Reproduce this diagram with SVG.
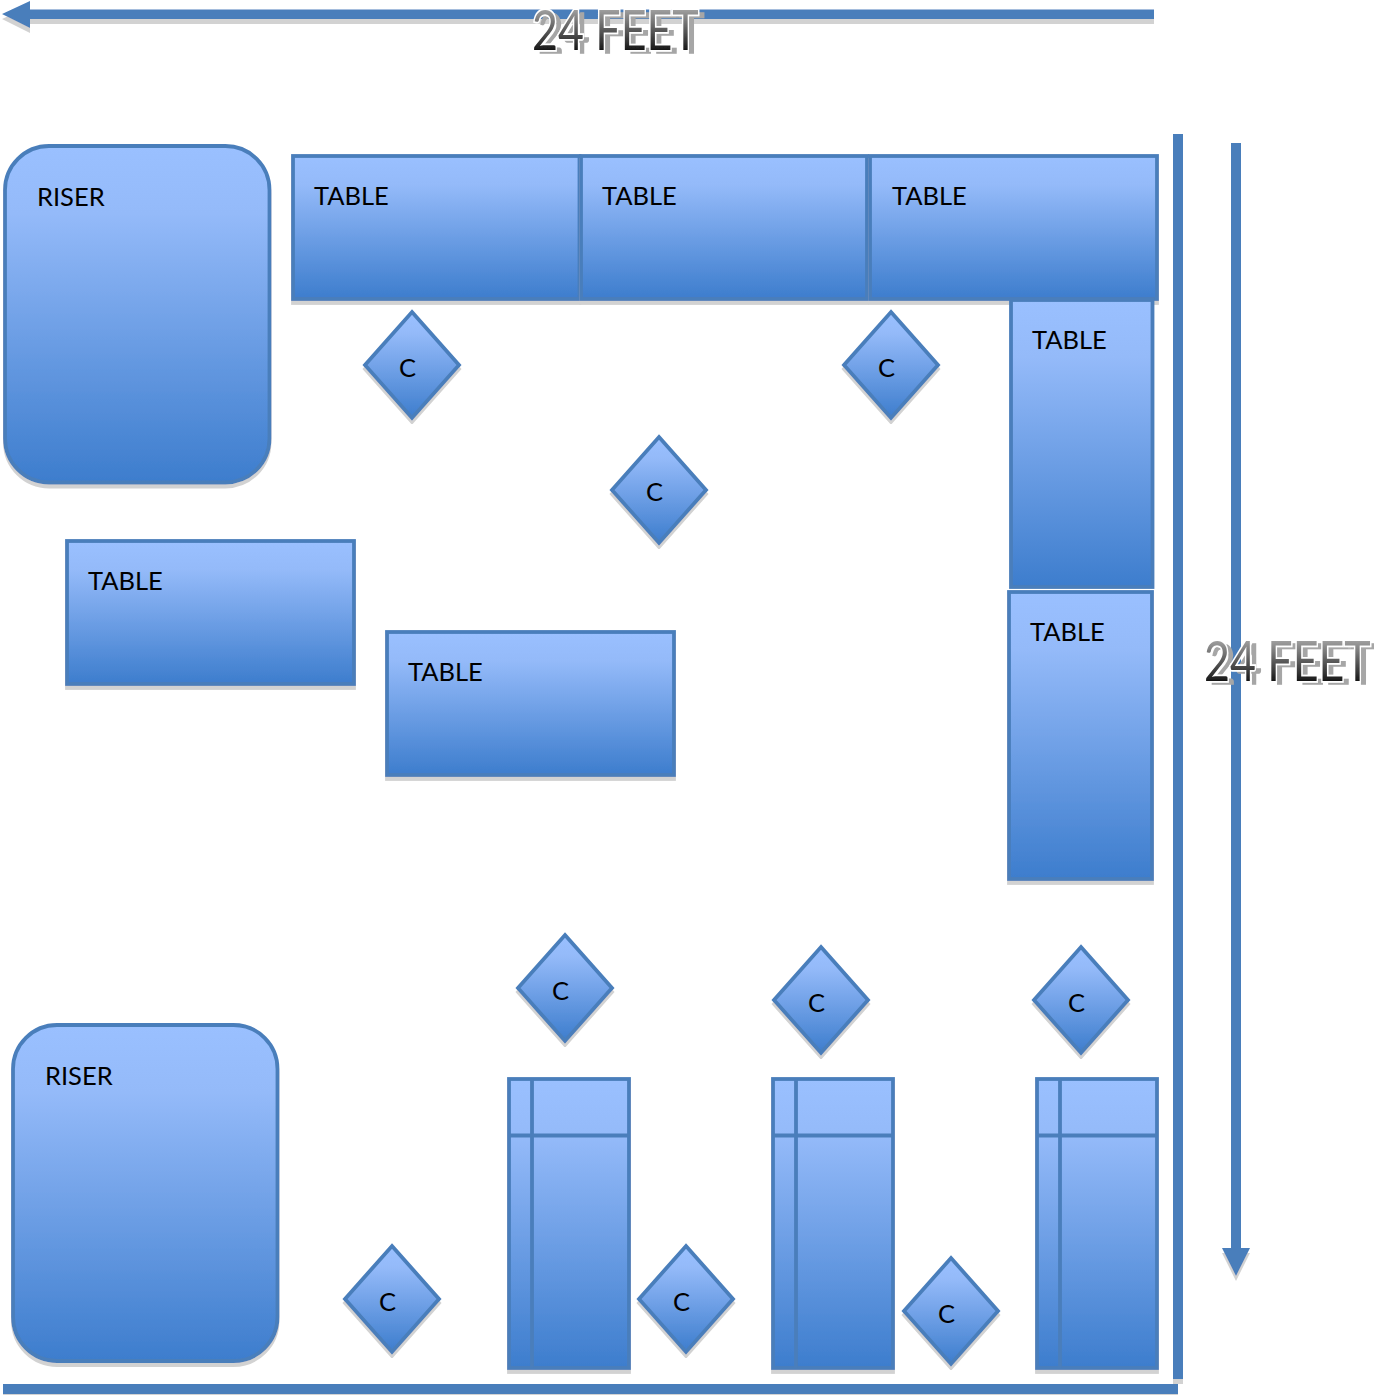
<svg xmlns="http://www.w3.org/2000/svg" width="1374" height="1395" viewBox="0 0 1374 1395">
<defs>
<linearGradient id="g" x1="0" y1="0" x2="0" y2="1"><stop offset="0" stop-color="#9ac0ff"/><stop offset="0.2" stop-color="#94baf9"/><stop offset="1" stop-color="#3d7dcd"/></linearGradient>
<linearGradient id="tg" x1="0" y1="0" x2="0" y2="1"><stop offset="0.15" stop-color="#b4b4b4"/><stop offset="0.85" stop-color="#111111"/></linearGradient>
<filter id="sh" x="-5%" y="-5%" width="110%" height="110%"><feOffset in="SourceAlpha" dx="0" dy="4" result="o"/><feFlood flood-color="#d2d2d2"/><feComposite in2="o" operator="in"/><feMerge><feMergeNode/><feMergeNode in="SourceGraphic"/></feMerge></filter>
<filter id="bsh" filterUnits="userSpaceOnUse" x="0" y="0" width="1374" height="1395"><feOffset in="SourceAlpha" dx="0" dy="5" result="o"/><feFlood flood-color="#d2d2d2"/><feComposite in2="o" operator="in"/><feMerge><feMergeNode/><feMergeNode in="SourceGraphic"/></feMerge></filter>
<filter id="ts" x="-10%" y="-20%" width="120%" height="140%"><feMorphology in="SourceAlpha" operator="erode" radius="1"/><feOffset dx="8" dy="3" result="o"/><feFlood flood-color="#a6a6a6"/><feComposite in2="o" operator="in"/><feMerge><feMergeNode/><feMergeNode in="SourceGraphic"/></feMerge></filter>
</defs>
<style>
.s{fill:url(#g);stroke:#4a7ebb;stroke-width:3.8}
.l{fill:none;stroke:#4a7ebb;stroke-width:3.8}
.b{fill:#4a7ebb}
.t{font-family:Lato,"Open Sans",sans-serif;font-size:25.5px;fill:#000}
.big{font-family:Lato,"Liberation Sans",sans-serif;font-size:57px;fill:url(#tg);stroke:#fff;stroke-width:3.5;paint-order:stroke;filter:url(#ts)}
</style>
<g id="connectors">
<path class="b" filter="url(#bsh)" d="M1154 9.500H30V1L2 14L30 28V19H1154Z"/>
<rect class="b" x="1173" y="134" width="10" height="1245" filter="url(#bsh)"/>
<path class="b" filter="url(#bsh)" d="M1231 143H1241V1248H1250L1236 1276L1222 1248H1231Z"/>
<rect class="b" x="3" y="1384" width="1175" height="10" filter="url(#bsh)"/>
</g>
<g id="riser-1"><rect class="s" filter="url(#sh)" x="5" y="146" width="264.500" height="336.500" rx="44"/><text class="t" x="37" y="206">RISER</text></g>
<g id="riser-2"><rect class="s" filter="url(#sh)" x="13" y="1025" width="264.500" height="336" rx="44"/><text class="t" x="45" y="1085">RISER</text></g>
<g id="table-1"><rect class="s" filter="url(#sh)" x="293" y="156" width="286.500" height="143"/><text class="t" x="314" y="205">TABLE</text></g>
<g id="table-2"><rect class="s" filter="url(#sh)" x="581" y="156" width="286" height="143"/><text class="t" x="602" y="205">TABLE</text></g>
<g id="table-3"><rect class="s" filter="url(#sh)" x="870" y="156" width="287" height="143"/><text class="t" x="892" y="205">TABLE</text></g>
<g id="table-4"><rect class="s" x="1011" y="300" width="141.500" height="287"/><text class="t" x="1032" y="349">TABLE</text></g>
<g id="table-5"><rect class="s" filter="url(#sh)" x="1009" y="592" width="143" height="287"/><text class="t" x="1030" y="641">TABLE</text></g>
<g id="table-6"><rect class="s" filter="url(#sh)" x="67" y="541" width="287" height="143"/><text class="t" x="88" y="590">TABLE</text></g>
<g id="table-7"><rect class="s" filter="url(#sh)" x="387" y="632" width="287" height="143"/><text class="t" x="408" y="681">TABLE</text></g>
<g id="tall-1"><rect class="s" filter="url(#sh)" x="509" y="1079" width="120" height="289"/><path class="l" d="M532 1079V1368M509 1135.500H629"/></g>
<g id="tall-2"><rect class="s" filter="url(#sh)" x="773" y="1079" width="120" height="289"/><path class="l" d="M796 1079V1368M773 1135.500H893"/></g>
<g id="tall-3"><rect class="s" filter="url(#sh)" x="1037" y="1079" width="120" height="289"/><path class="l" d="M1060 1079V1368M1037 1135.500H1157"/></g>
<g id="c-1"><path class="s" filter="url(#sh)" d="M412 312L459 365L412 418L365 365Z"/><text class="t" x="399" y="377">C</text></g>
<g id="c-2"><path class="s" filter="url(#sh)" d="M891 312L938 365L891 418L844 365Z"/><text class="t" x="878" y="377">C</text></g>
<g id="c-3"><path class="s" filter="url(#sh)" d="M659 437L706 490L659 543L612 490Z"/><text class="t" x="646" y="501">C</text></g>
<g id="c-4"><path class="s" filter="url(#sh)" d="M565 935L612 988L565 1041L518 988Z"/><text class="t" x="552" y="1000">C</text></g>
<g id="c-5"><path class="s" filter="url(#sh)" d="M821 947L868 1000L821 1053L774 1000Z"/><text class="t" x="808" y="1012">C</text></g>
<g id="c-6"><path class="s" filter="url(#sh)" d="M1081 947L1128 1000L1081 1053L1034 1000Z"/><text class="t" x="1068" y="1012">C</text></g>
<g id="c-7"><path class="s" filter="url(#sh)" d="M392 1246L439 1299L392 1352L345 1299Z"/><text class="t" x="379" y="1311">C</text></g>
<g id="c-8"><path class="s" filter="url(#sh)" d="M686 1246L733 1299L686 1352L639 1299Z"/><text class="t" x="673" y="1311">C</text></g>
<g id="c-9"><path class="s" filter="url(#sh)" d="M951 1258L998 1311L951 1364L904 1311Z"/><text class="t" x="938" y="1323">C</text></g>
<g id="labels"><text class="big" transform="translate(532 50) scale(0.785 1)">24 FEET</text><text class="big" transform="translate(1204 681) scale(0.785 1)">24 FEET</text></g>
</svg>
